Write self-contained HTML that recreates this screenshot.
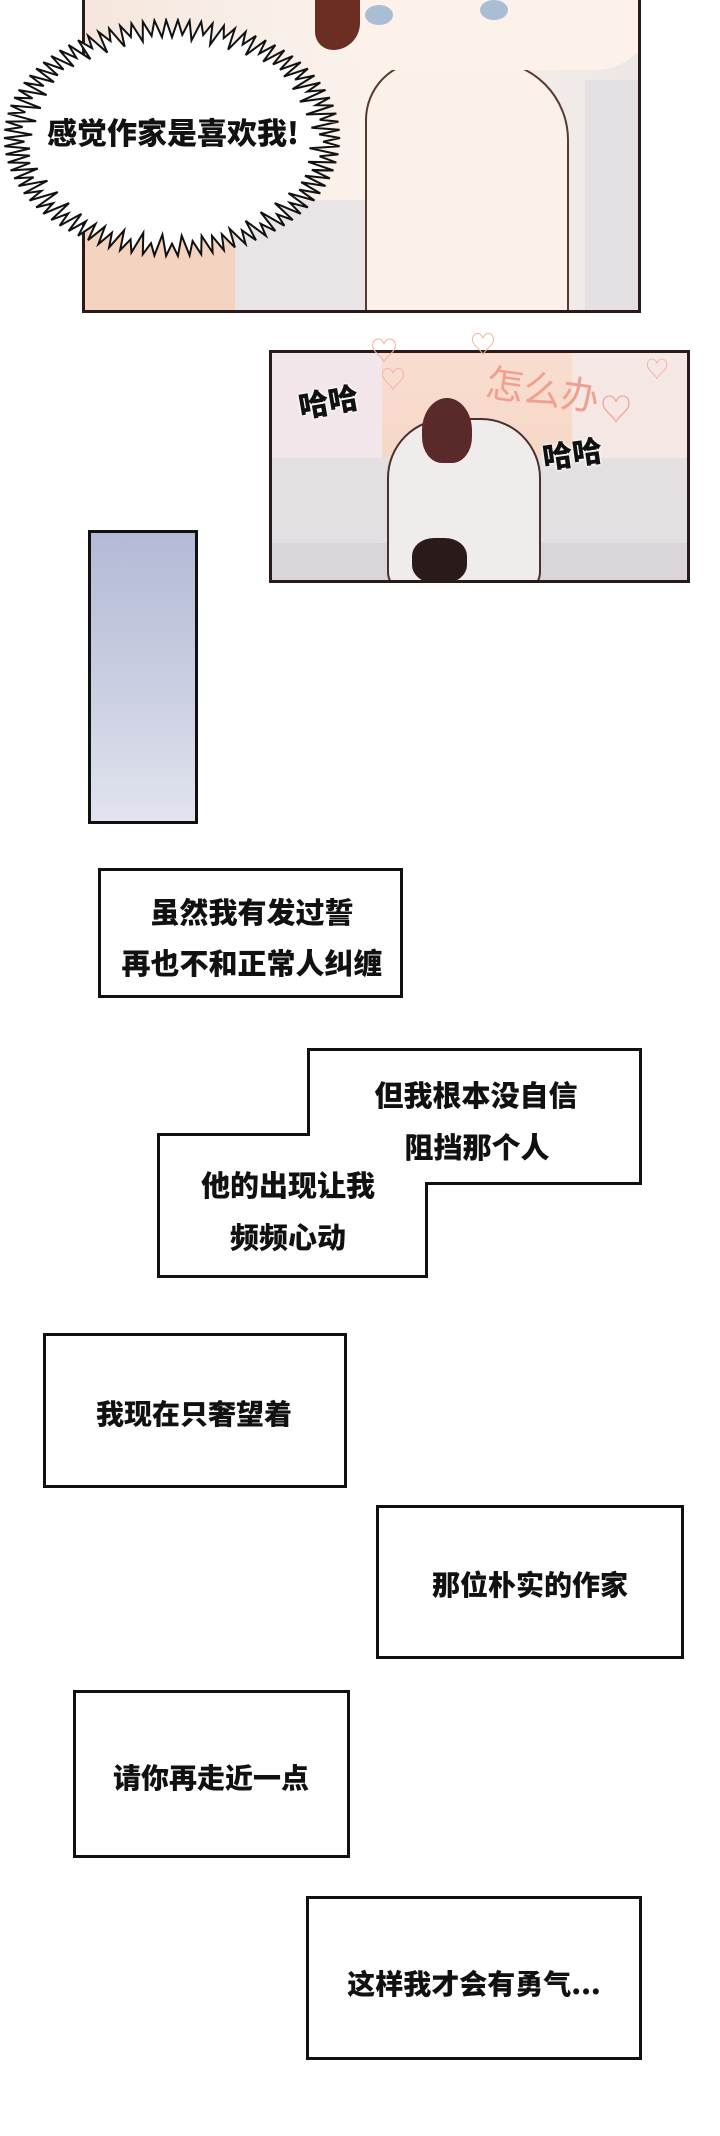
<!DOCTYPE html>
<html><head><meta charset="utf-8"><style>
body{margin:0;width:720px;height:2136px;background:#fff;position:relative;overflow:hidden;font-family:"Liberation Sans","Noto Sans CJK SC",sans-serif;}
.abs{position:absolute;}
.box{position:absolute;border:3px solid #111;box-sizing:border-box;background:#fff;}
.t{position:absolute;font-weight:900;color:#111;white-space:nowrap;transform:translate(-50%,-50%);font-family:"Noto Sans CJK SC","WenQuanYi Zen Hei",sans-serif;}
</style></head><body>

<!-- Panel 1 -->
<div class="abs" style="left:82px;top:-3px;width:559px;height:316px;border:3px solid #2a1a1a;box-sizing:border-box;overflow:hidden;background:linear-gradient(90deg,#f6e6dc 0%,#f8efe8 30%,#fbf3ec 60%,#ece6e6 100%);">
  <div class="abs" style="left:0;top:190px;width:160px;height:140px;background:#f4d3c0;border-radius:0 60px 0 0;"></div>
  <div class="abs" style="left:150px;top:200px;width:240px;height:130px;background:#e9e4e6;border-radius:40px 0 0 0;"></div>
  <div class="abs" style="left:280px;top:60px;width:200px;height:270px;background:#fbf1e8;border:2px solid #5a3a30;border-radius:60px 80px 0 0;"></div>
  <div class="abs" style="left:240px;top:-30px;width:330px;height:100px;background:#fcf2ea;border-radius:0 0 60px 60px;"></div>
  <div class="abs" style="left:230px;top:-20px;width:45px;height:70px;background:#6a2e22;border-radius:0 0 30px 20px;"></div>
  <div class="abs" style="left:280px;top:5px;width:28px;height:20px;background:#a9bed2;border-radius:50%;"></div>
  <div class="abs" style="left:395px;top:0px;width:28px;height:20px;background:#a9bed2;border-radius:50%;"></div>
  <div class="abs" style="left:500px;top:80px;width:60px;height:250px;background:#e4dfe2;"></div>
</div>

<!-- Burst bubble -->
<svg class="abs" style="left:0;top:18px" width="360" height="260">
  <polygon id="burst" fill="#fff" stroke="#111" stroke-width="2"/>
</svg>
<div class="t" style="left:173px;top:131px;font-size:30px;">感觉作家是喜欢我!</div>

<!-- Panel 2 -->
<div class="abs" style="left:269px;top:350px;width:421px;height:233px;border:3px solid #2a1a1a;box-sizing:border-box;overflow:hidden;background:linear-gradient(180deg,#f8ddd0 0%,#f6d8c6 45%,#e4e0e2 46%,#e2dfe2 100%);">
  <div class="abs" style="left:0;top:0;width:110px;height:105px;background:#f3e6ea;"></div>
  <div class="abs" style="left:300px;top:0;width:120px;height:105px;background:#f5e7e3;"></div>
  <div class="abs" style="left:0;top:190px;width:421px;height:45px;background:#d9d5da;"></div>
  <div class="abs" style="left:115px;top:65px;width:150px;height:170px;background:#f0eceb;border:2px solid #4a3030;border-radius:60px 60px 20px 20px;"></div>
  <div class="abs" style="left:150px;top:45px;width:50px;height:65px;background:#5a2a2a;border-radius:50% 50% 40% 40%;"></div>
  <div class="abs" style="left:140px;top:185px;width:55px;height:45px;background:#2a1a1a;border-radius:40%;"></div>
</div>
<div class="t" style="left:328px;top:400px;font-size:30px;transform:translate(-50%,-50%) rotate(-10deg);text-shadow:0 0 3px #fff,0 0 3px #fff;">哈哈</div>
<div class="t" style="left:543px;top:387px;font-size:38px;color:#f0a090;font-weight:400;transform:translate(-50%,-50%) rotate(8deg);">怎么办</div>
<div class="t" style="left:572px;top:452px;font-size:30px;transform:translate(-50%,-50%) rotate(-8deg);text-shadow:0 0 3px #fff,0 0 3px #fff;">哈哈</div>
<div class="abs" style="left:370px;top:330px;color:#f2b5a0;font-size:28px;">♡</div>
<div class="abs" style="left:470px;top:325px;color:#f2b5a0;font-size:26px;">♡</div>
<div class="abs" style="left:380px;top:360px;color:#f2b5a0;font-size:26px;">♡</div>
<div class="abs" style="left:600px;top:385px;color:#f0a090;font-size:32px;">♡</div>
<div class="abs" style="left:645px;top:350px;color:#f2b5a0;font-size:24px;">♡</div>

<!-- Blue panel -->
<div class="abs" style="left:88px;top:530px;width:110px;height:294px;border:3px solid #111;box-sizing:border-box;background:linear-gradient(180deg,#b3bad6 0%,#cdd1e3 60%,#e2e4ef 100%);"></div>

<!-- Box 1 -->
<div class="box" style="left:98px;top:868px;width:305px;height:130px;"></div>
<div class="t" style="left:252px;top:911px;font-size:29px;">虽然我有发过誓</div>
<div class="t" style="left:252px;top:962px;font-size:29px;">再也不和正常人纠缠</div>

<!-- Step shape -->
<svg class="abs" style="left:0;top:0" width="720" height="1400">
  <polygon points="308.5,1049.5 640.5,1049.5 640.5,1183.5 426.5,1183.5 426.5,1276.5 158.5,1276.5 158.5,1134.5 308.5,1134.5" fill="#fff" stroke="#111" stroke-width="3"/>
</svg>
<div class="t" style="left:476px;top:1094px;font-size:29px;">但我根本没自信</div>
<div class="t" style="left:477px;top:1146px;font-size:29px;">阻挡那个人</div>
<div class="t" style="left:288px;top:1184px;font-size:29px;">他的出现让我</div>
<div class="t" style="left:288px;top:1236px;font-size:29px;">频频心动</div>

<!-- Lower boxes -->
<div class="box" style="left:43px;top:1333px;width:304px;height:155px;"></div>
<div class="t" style="left:194px;top:1413px;font-size:28px;">我现在只奢望着</div>
<div class="box" style="left:376px;top:1505px;width:308px;height:154px;"></div>
<div class="t" style="left:530px;top:1584px;font-size:28px;">那位朴实的作家</div>
<div class="box" style="left:73px;top:1690px;width:277px;height:168px;"></div>
<div class="t" style="left:211px;top:1777px;font-size:28px;">请你再走近一点</div>
<div class="box" style="left:306px;top:1896px;width:336px;height:164px;"></div>
<div class="t" style="left:474px;top:1983px;font-size:28px;">这样我才会有勇气...</div>

<script>
(function(){
  var cx=172,cy=120,rx=168,ry=118,n=90,pts=[];
  for(var i=0;i<n*2;i++){
    var a=i/(n*2)*Math.PI*2;
    var k=(i%2===0)?1:0.86+0.04*Math.sin(i*1.7);
    pts.push((cx+Math.cos(a)*rx*k).toFixed(1)+","+(cy+Math.sin(a)*ry*k).toFixed(1));
  }
  document.getElementById('burst').setAttribute('points',pts.join(' '));
})();
</script>
</body></html>
